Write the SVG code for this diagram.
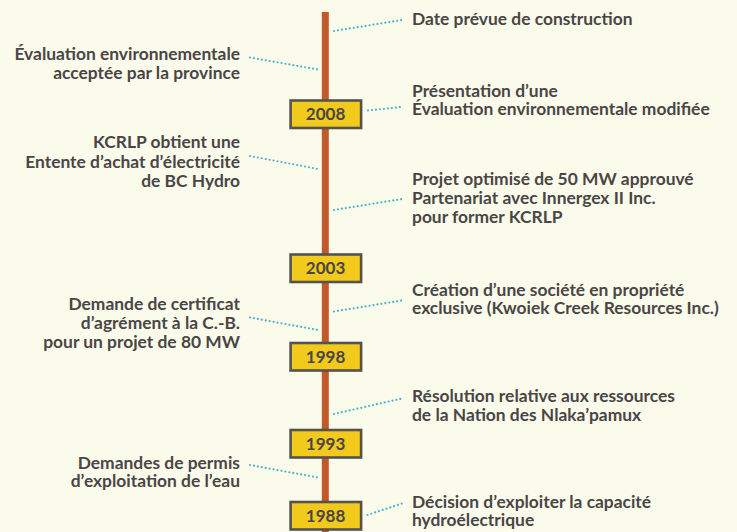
<svg xmlns="http://www.w3.org/2000/svg" width="737" height="532" viewBox="0 0 737 532">
  <style>
    .t { font-family: Lato, "Open Sans", "Liberation Sans", sans-serif; font-weight: 700; font-size: 17.4px; fill: #4a4546; }
    .l { text-anchor: end; }
    .yr { font-family: Lato, "Open Sans", "Liberation Sans", sans-serif; font-weight: 700; font-size: 17px; fill: #4a4546; text-anchor: middle; }
    .box { fill: #f2ca1c; stroke: #55524f; stroke-width: 2.6; }
    .dot { fill: none; stroke: #4bb0ce; stroke-width: 2.2; stroke-linecap: round; stroke-dasharray: 0 4; }
  </style>
  <rect x="0" y="0" width="737" height="532" fill="#fafbea"/>

  <!-- timeline spine -->
  <rect id="spine" x="321.8" y="12" width="7" height="520" fill="#c1592a"/>

  <!-- dotted leaders -->
  <g id="connectors">
    <line class="dot" x1="334" y1="31" x2="402" y2="20"/>
    <line class="dot" x1="250" y1="57.5" x2="318" y2="69.5"/>
    <line class="dot" x1="368" y1="110.5" x2="402" y2="107"/>
    <line class="dot" x1="250" y1="156" x2="318" y2="169"/>
    <line class="dot" x1="334" y1="210" x2="402" y2="199"/>
    <line class="dot" x1="334" y1="311.5" x2="402" y2="300.5"/>
    <line class="dot" x1="250" y1="317.5" x2="318" y2="330"/>
    <line class="dot" x1="334" y1="414" x2="402" y2="398.5"/>
    <line class="dot" x1="250" y1="465" x2="318" y2="477.5"/>
    <line class="dot" x1="367.5" y1="515" x2="402" y2="503.5"/>
  </g>

  <!-- year markers -->
  <g id="y2008"><rect class="box" x="290.6" y="100.5" width="70.5" height="27.5"/><text class="yr" x="325.6" y="120">2008</text></g>
  <g id="y2003"><rect class="box" x="290.6" y="254.5" width="70.5" height="27.5"/><text class="yr" x="325.6" y="274">2003</text></g>
  <g id="y1998"><rect class="box" x="290.6" y="343" width="70.5" height="27.5"/><text class="yr" x="325.6" y="362.5">1998</text></g>
  <g id="y1993"><rect class="box" x="290.6" y="430" width="70.5" height="27.5"/><text class="yr" x="325.6" y="449.5">1993</text></g>
  <g id="y1988"><rect class="box" x="290.6" y="502" width="70.5" height="27.5"/><text class="yr" x="325.6" y="521.5">1988</text></g>

  <!-- events, right side -->
  <g id="e-construction"><text class="t" x="412" y="25">Date prévue de construction</text></g>
  <g id="e-presentation">
    <text class="t" x="412" y="96.7">Présentation d’une<tspan x="412" dy="18.3">Évaluation environnementale modifiée</tspan></text>
  </g>
  <g id="e-projet">
    <text class="t" x="412" y="185">Projet optimisé de 50 MW approuvé<tspan x="412" dy="19">Partenariat avec Innergex II Inc.</tspan><tspan x="412" dy="18.7">pour former KCRLP</tspan></text>
  </g>
  <g id="e-creation">
    <text class="t" x="412" y="296">Création d’une société en propriété<tspan x="412" dy="18.3">exclusive (Kwoiek Creek Resources Inc.)</tspan></text>
  </g>
  <g id="e-resolution">
    <text class="t" x="412" y="402">Résolution relative aux ressources<tspan x="412" dy="18.7">de la Nation des Nlaka’pamux</tspan></text>
  </g>
  <g id="e-decision">
    <text class="t" x="412" y="507.7">Décision d’exploiter la capacité<tspan x="412" dy="18.3">hydroélectrique</tspan></text>
  </g>

  <!-- events, left side -->
  <g id="e-evaluation">
    <text class="t l" x="240" y="60">Évaluation environnementale<tspan x="240" dy="19">acceptée par la province</tspan></text>
  </g>
  <g id="e-kcrlp">
    <text class="t l" x="240" y="148.3">KCRLP obtient une<tspan x="240" dy="19.4">Entente d’achat d’électricité</tspan><tspan x="240" dy="19">de BC Hydro</tspan></text>
  </g>
  <g id="e-certificat">
    <text class="t l" x="240" y="310">Demande de certificat<tspan x="240" dy="19">d’agrément à la C.-B.</tspan><tspan x="240" dy="18.7">pour un projet de 80 MW</tspan></text>
  </g>
  <g id="e-permis">
    <text class="t l" x="240" y="469.3">Demandes de permis<tspan x="240" dy="18">d’exploitation de l’eau</tspan></text>
  </g>
</svg>
